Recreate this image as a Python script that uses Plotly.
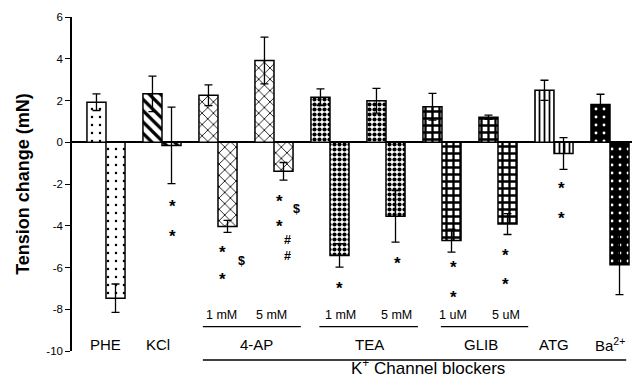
import plotly.graph_objects as go

FONT = "Liberation Sans, Arial, sans-serif"

# ---- data ----
groups = ["PHE", "KCl", "4-AP 1 mM", "4-AP 5 mM", "TEA 1 mM", "TEA 5 mM",
          "GLIB 1 uM", "GLIB 5 uM", "ATG", "Ba2+"]
pos_vals = [1.92, 2.32, 2.25, 3.92, 2.16, 1.99, 1.70, 1.20, 2.49, 1.81]
pos_err = [0.40, 0.85, 0.50, 1.12, 0.40, 0.59, 0.64, 0.10, 0.48, 0.49]
neg_vals = [-7.47, -0.15, -4.03, -1.39, -5.42, -3.55, -4.71, -3.92, -0.54, -5.87]
neg_err = [0.68, 1.83, 0.29, 0.42, 0.56, 1.23, 0.55, 0.50, 0.76, 1.43]

# significance markers (x = group index + shift, y in mN)
sig_x = [1.18, 1.18, 2.08, 2.08, 2.42, 3.10, 3.10, 3.40, 3.24, 3.24,
         4.17, 5.20, 6.21, 6.21, 7.14, 7.14, 8.14, 8.14]
sig_y = [-2.86, -4.27, -5.06, -6.35, -5.71, -2.59, -3.82, -3.19, -4.67, -5.47,
         -6.79, -5.58, -5.74, -7.18, -5.18, -6.59, -1.98, -3.42]
sig_text = ["*", "*", "*", "*", "$", "*", "*", "$", "#", "#",
            "*", "*", "*", "*", "*", "*", "*", "*"]

# axis labels
main_labels = ["PHE", "KCl", "4-AP", "TEA", "GLIB", "ATG", "Ba<sup>2+</sup>"]
main_label_x = [0.0, 0.92, 2.69, 4.71, 6.70, 8.00, 9.00]
dose_labels = ["1 mM", "5 mM", "1 mM", "5 mM", "1 uM", "5 uM"]
dose_label_x = [2.06, 2.96, 4.18, 5.19, 6.20, 7.14]
dose_lines = [(1.73, 3.48), (3.81, 5.57), (5.98, 7.54)]
yticks = [-10, -8, -6, -4, -2, 0, 2, 4, 6]

# ---- patterns per group ----
shapes_ = [".", "\\", "x", "x", ".", ".", "+", "+", "|", "."]
bg = ["white"] * 9 + ["black"]
fg = ["black"] * 9 + ["white"]
psize = [8, 8, 8, 8, 5, 5, 7, 7, 5, 8]
psol = [0.08, 0.4, 0.2, 0.2, 0.55, 0.55, 0.55, 0.55, 0.35, 0.1]

x_idx = list(range(len(groups)))

fig = go.Figure()
for vals, errs, off in [(pos_vals, pos_err, -0.34), (neg_vals, neg_err, 0.0)]:
    fig.add_trace(go.Bar(
        x=x_idx, y=vals, offset=off, width=0.34,
        marker=dict(color="white", line=dict(color="black", width=1.5),
                    pattern=dict(shape=shapes_, bgcolor=bg, fgcolor=fg,
                                 size=psize, solidity=psol, fillmode="replace")),
        error_y=dict(type="data", array=errs, visible=True, color="black",
                     thickness=1.3, width=4),
        showlegend=False, hoverinfo="skip"))

ann = []
for x, y, t in zip(sig_x, sig_y, sig_text):
    star = t == "*"
    ann.append(dict(x=x, y=y, xref="x", yref="y", text="<b>%s</b>" % t, showarrow=False,
                    font=dict(family=FONT, size=17 if star else 12.5, color="black"),
                    yshift=-5 if star else 0))
for x, t in zip(main_label_x, main_labels):
    ann.append(dict(x=x, y=-9.67, xref="x", yref="y", text=t, showarrow=False,
                    font=dict(family=FONT, size=15, color="black")))
for x, t in zip(dose_label_x, dose_labels):
    ann.append(dict(x=x, y=-8.29, xref="x", yref="y", text=t, showarrow=False,
                    font=dict(family=FONT, size=12.5, color="black")))
ann.append(dict(x=5.75, y=-0.087, xref="x", yref="paper", text="K<sup>+</sup> Channel blockers",
                showarrow=False, font=dict(family=FONT, size=17, color="black")))

shp = []
for x0, x1 in dose_lines:
    shp.append(dict(type="line", x0=x0, x1=x1, y0=-8.83, y1=-8.83, xref="x", yref="y",
                    line=dict(color="black", width=1.3)))
shp.append(dict(type="line", x0=1.73, x1=9.29, y0=-0.027, y1=-0.027, xref="x", yref="paper",
                line=dict(color="black", width=1.3)))

fig.update_layout(
    width=632, height=388,
    margin=dict(l=72, r=0, t=17, b=37),
    plot_bgcolor="white", paper_bgcolor="white",
    barmode="overlay",
    annotations=ann, shapes=shp,
    xaxis=dict(range=[-0.607, 9.393], visible=False),
    yaxis=dict(range=[-10, 6], tickvals=yticks, ticktext=[str(v) for v in yticks],
               showline=True, linecolor="black", linewidth=1.5, ticks="outside",
               ticklen=5, tickwidth=1.3, tickcolor="black", showgrid=False,
               zeroline=True, zerolinecolor="black", zerolinewidth=1.5,
               tickfont=dict(family=FONT, size=11.5, color="black"),
               title=dict(text="<b>Tension change (mN)</b>", standoff=12,
                          font=dict(family=FONT, size=18, color="black"))),
    font=dict(family=FONT),
)

fig.write_html("out.html")
